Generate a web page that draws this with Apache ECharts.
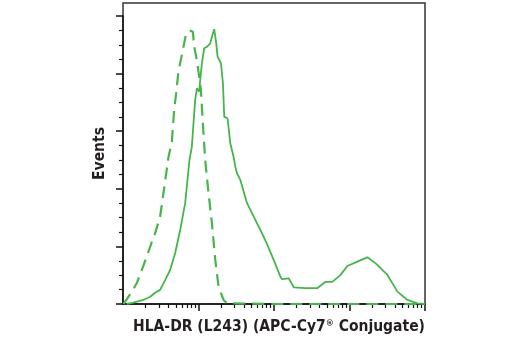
<!DOCTYPE html>
<html>
<head>
<meta charset="utf-8">
<script src="https://cdn.jsdelivr.net/npm/echarts@6/dist/echarts.min.js"></script>
<style>
  html, body { margin: 0; padding: 0; background: #fff; }
  #chart { width: 520px; height: 350px; }
</style>
</head>
<body>
<div id="chart"></div>
<script>
// Stained sample histogram (solid) and isotype control (dashed)
var stainedIntensity = [11.2, 13.7, 18.6, 22.9, 26.6, 31.0, 36.1, 42.1, 49.1, 57.2, 66.6, 75.9, 81.6, 90.3, 95.2, 102, 105.4, 110.9, 119.1, 129.4, 143.0, 150.7, 161.6, 171.8, 178.8, 198.3, 210.7, 219.3, 242.6, 263.6, 291.6, 307.0, 323.3, 357.9, 439.5, 596.6, 659.7, 809.4, 990, 1216, 1281, 1567, 1828, 2614, 3736, 4817, 5914, 7622, 9357, 12706, 17233, 22220, 31780, 43150, 58600, 79500, 97300];
var stainedEvents = [0, 0.45, 1.4, 2.5, 3.9, 4.9, 8.3, 11.8, 17.7, 25.7, 35.0, 50.0, 54.6, 70.8, 74.9, 73.7, 77.8, 83.6, 88.8, 89.3, 90.5, 92.8, 95.4, 90.5, 85.9, 83.6, 76.6, 65.0, 64.5, 55.8, 51.1, 47.7, 45.4, 43.1, 35.0, 28.0, 25.7, 20.8, 15.3, 9.5, 8.6, 8.9, 5.8, 5.5, 5.5, 7.7, 7.7, 10.1, 13.2, 14.7, 16.2, 14.1, 10.1, 4.3, 1.4, 0.25, 0];

var controlIntensity = [10.1, 11.2, 13.1, 15.2, 17.7, 20.6, 24.1, 26.6, 31.0, 34.3, 40.0, 44.4, 47.6, 50.6, 54.2, 60.2, 64.6, 68.7, 73.7, 79.3, 84.3, 87.7, 93.2, 100, 107.6, 110.9, 116.5, 122.7, 135.8, 150.7, 166.7, 184.5, 214.8, 238.2, 1000, 10000, 100000];
var controlEvents = [0, 1.6, 4.3, 7.2, 11.8, 16.4, 21.6, 24.5, 30.3, 38.4, 51.0, 56.4, 67.4, 73.2, 80.7, 86.5, 90.5, 94.0, 94.5, 94.9, 94.5, 89.3, 85.9, 80.7, 74.3, 68.5, 59.3, 50.0, 38.4, 28.0, 15.3, 6.0, 1.4, 0.25, 0, 0, 0];

// Axis ticks
var xMajorTicks = [100, 1000, 10000, 100000];
var xMinorTicks = [];
[10, 100, 1000, 10000].forEach(function (d) {
  for (var m = 2; m <= 9; m++) xMinorTicks.push(m * d);
});

var xTitle = 'HLA-DR (L243) (APC-Cy7{r|®} Conjugate)';
var yTitle = 'Events';

function pairs(xs, ys) {
  return xs.map(function (x, i) { return [x, ys[i]]; });
}

var GREEN = '#46b54c';
var INK = '#231f20';
var FONT = "'Liberation Sans Narrow', 'DejaVu Sans Condensed', sans-serif";

var chart = echarts.init(document.getElementById('chart'), null, { renderer: 'canvas' });

chart.setOption({
  animation: false,
  backgroundColor: '#fff',
  grid: [
    { left: 123, right: 95, top: 16, bottom: 46 },
    { left: 123, right: 95, top: 3, bottom: 46, show: true, borderColor: '#333', borderWidth: 1.5, backgroundColor: 'transparent' }
  ],
  xAxis: [
    {
      type: 'log', logBase: 10, min: 10, max: 100000, gridIndex: 0, position: 'bottom',
      name: xTitle, nameLocation: 'middle', nameGap: 15,
      nameTextStyle: {
        fontFamily: FONT, fontWeight: 'bold', fontSize: 15.5, color: INK, padding: [0, 0, 0, 10],
        rich: { r: { fontFamily: FONT, fontSize: 9, verticalAlign: 'top', padding: [0, 0, 6, 0], color: INK } }
      },
      axisLine: { show: true, lineStyle: { color: '#111', width: 1.5 } },
      axisTick: { show: true, customValues: xMajorTicks, length: 7, lineStyle: { color: '#111', width: 1.5 } },
      axisLabel: { show: false },
      splitLine: { show: false },
      minorTick: { show: false }
    },
    {
      type: 'log', logBase: 10, min: 10, max: 100000, gridIndex: 0, position: 'bottom',
      axisLine: { show: false },
      axisTick: { show: true, customValues: xMinorTicks, length: 4, lineStyle: { color: '#111', width: 1.2 } },
      axisLabel: { show: false },
      splitLine: { show: false }
    },
    { type: 'value', gridIndex: 1, show: false }
  ],
  yAxis: [
    {
      type: 'value', min: 0, max: 100, interval: 20, gridIndex: 0,
      axisLine: { show: true, lineStyle: { color: '#111', width: 1.5 } },
      axisTick: { show: true, length: 7, lineStyle: { color: '#111', width: 1.5 } },
      minorTick: { show: true, splitNumber: 4, length: 4, lineStyle: { color: '#111', width: 1.2 } },
      axisLabel: { show: false },
      splitLine: { show: false }
    },
    {
      type: 'value', gridIndex: 1,
      name: yTitle, nameLocation: 'middle', nameGap: 15,
      nameTextStyle: { fontFamily: FONT, fontWeight: 'bold', fontSize: 15.5, color: INK },
      axisLine: { show: false }, axisTick: { show: false }, axisLabel: { show: false }, splitLine: { show: false }
    }
  ],
  series: [
    {
      name: 'Isotype control', type: 'line', xAxisIndex: 0, yAxisIndex: 0,
      data: pairs(controlIntensity, controlEvents),
      showSymbol: false, symbol: 'none',
      lineStyle: { color: GREEN, width: 2.2, type: [12, 7] },
      z: 3
    },
    {
      name: 'HLA-DR', type: 'line', xAxisIndex: 0, yAxisIndex: 0,
      data: pairs(stainedIntensity, stainedEvents),
      showSymbol: false, symbol: 'none',
      lineStyle: { color: GREEN, width: 1.8 },
      z: 4
    }
  ]
});
</script>
</body>
</html>
